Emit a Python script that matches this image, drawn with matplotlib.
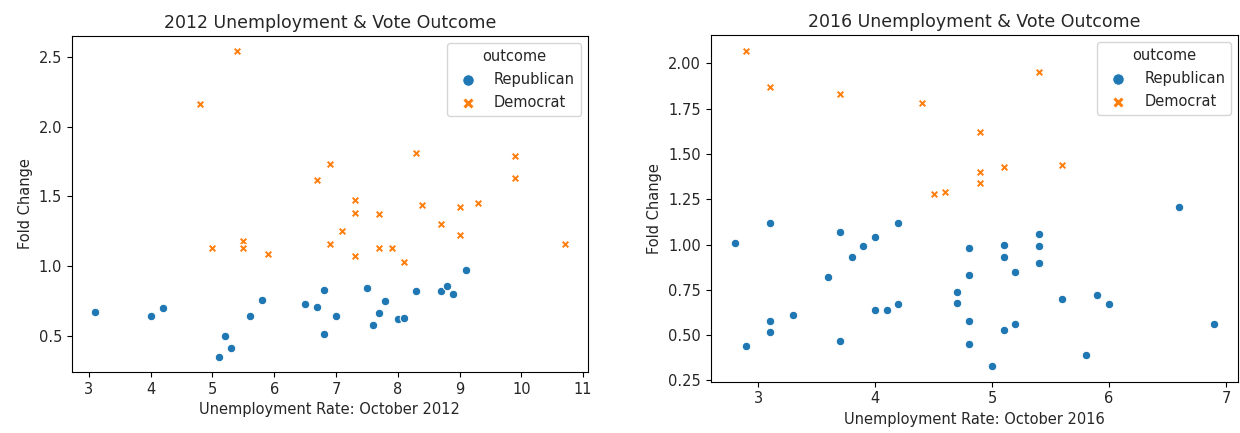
import matplotlib
matplotlib.use("Agg")
import matplotlib.pyplot as plt
from matplotlib.ticker import MultipleLocator

# county unemployment rate vs fold change in votes, split by outcome
rep_2012_unemp = [3.1, 4.0, 4.2, 5.1, 5.2, 5.3, 5.6, 5.8, 6.5, 6.7, 6.8, 6.8, 7.0,
                  7.5, 7.6, 7.7, 7.8, 8.0, 8.1, 8.3, 8.7, 8.8, 8.9, 9.1]
rep_2012_fold = [0.67, 0.64, 0.70, 0.35, 0.50, 0.41, 0.64, 0.76, 0.73, 0.71, 0.83, 0.51, 0.64,
                 0.84, 0.58, 0.66, 0.75, 0.62, 0.63, 0.82, 0.82, 0.86, 0.80, 0.97]
dem_2012_unemp = [4.8, 5.0, 5.4, 5.5, 5.5, 5.9, 6.7, 6.9, 6.9, 7.1, 7.3, 7.3, 7.3, 7.7, 7.7,
                  7.9, 8.1, 8.3, 8.4, 8.7, 9.0, 9.0, 9.3, 9.9, 9.9, 10.7]
dem_2012_fold = [2.16, 1.13, 2.54, 1.18, 1.13, 1.09, 1.62, 1.73, 1.16, 1.25, 1.47, 1.38, 1.07,
                 1.37, 1.13, 1.13, 1.03, 1.81, 1.44, 1.30, 1.42, 1.22, 1.45, 1.79, 1.63, 1.16]

rep_2016_unemp = [2.8, 2.9, 3.1, 3.1, 3.1, 3.3, 3.6, 3.7, 3.7, 3.8, 3.9, 4.0, 4.0, 4.1, 4.2,
                  4.2, 4.7, 4.7, 4.8, 4.8, 4.8, 4.8, 5.0, 5.1, 5.1, 5.1, 5.2, 5.2, 5.4, 5.4,
                  5.4, 5.6, 5.8, 5.9, 6.0, 6.6, 6.9]
rep_2016_fold = [1.01, 0.44, 1.12, 0.58, 0.52, 0.61, 0.82, 1.07, 0.47, 0.93, 0.99, 1.04, 0.64,
                 0.64, 0.67, 1.12, 0.74, 0.68, 0.98, 0.83, 0.58, 0.45, 0.33, 1.00, 0.93, 0.53,
                 0.85, 0.56, 1.06, 0.99, 0.90, 0.70, 0.39, 0.72, 0.67, 1.21, 0.56]
dem_2016_unemp = [2.9, 3.1, 3.7, 4.4, 4.5, 4.6, 4.9, 4.9, 4.9, 5.1, 5.4, 5.6]
dem_2016_fold = [2.07, 1.87, 1.83, 1.78, 1.28, 1.29, 1.62, 1.40, 1.34, 1.43, 1.95, 1.44]

outcomes = ["Republican", "Democrat"]
colors = {"Republican": "#1f77b4", "Democrat": "#ff7f0e"}
markers = {"Republican": "o", "Democrat": "X"}

plt.rcParams["font.size"] = 10.5
plt.rcParams["text.color"] = "#262626"
plt.rcParams["axes.labelcolor"] = "#262626"
plt.rcParams["xtick.labelcolor"] = "#262626"
plt.rcParams["ytick.labelcolor"] = "#262626"

fig = plt.figure(figsize=(12.4, 4.33), dpi=100)
ax1 = fig.add_axes([0.0578, 0.1409, 0.4164, 0.776])
ax2 = fig.add_axes([0.5731, 0.1185, 0.4255, 0.8007])


def draw(ax, data, year):
    for name in outcomes:
        xs, ys = data[name]
        ax.scatter(xs, ys, s=38, c=colors[name], marker=markers[name],
                   edgecolors="white", linewidths=0.75, label=name)
    ax.set_title(f"{year} Unemployment & Vote Outcome", fontsize=12.5)
    ax.set_xlabel(f"Unemployment Rate: October {year}")
    ax.set_ylabel("Fold Change")
    ax.xaxis.set_major_locator(MultipleLocator(1))
    ax.legend(title="outcome", loc="upper right", markerscale=1.35,
              labelspacing=0.55)


draw(ax1, {"Republican": (rep_2012_unemp, rep_2012_fold),
           "Democrat": (dem_2012_unemp, dem_2012_fold)}, 2012)
draw(ax2, {"Republican": (rep_2016_unemp, rep_2016_fold),
           "Democrat": (dem_2016_unemp, dem_2016_fold)}, 2016)

fig.savefig("out.png", dpi=100)
